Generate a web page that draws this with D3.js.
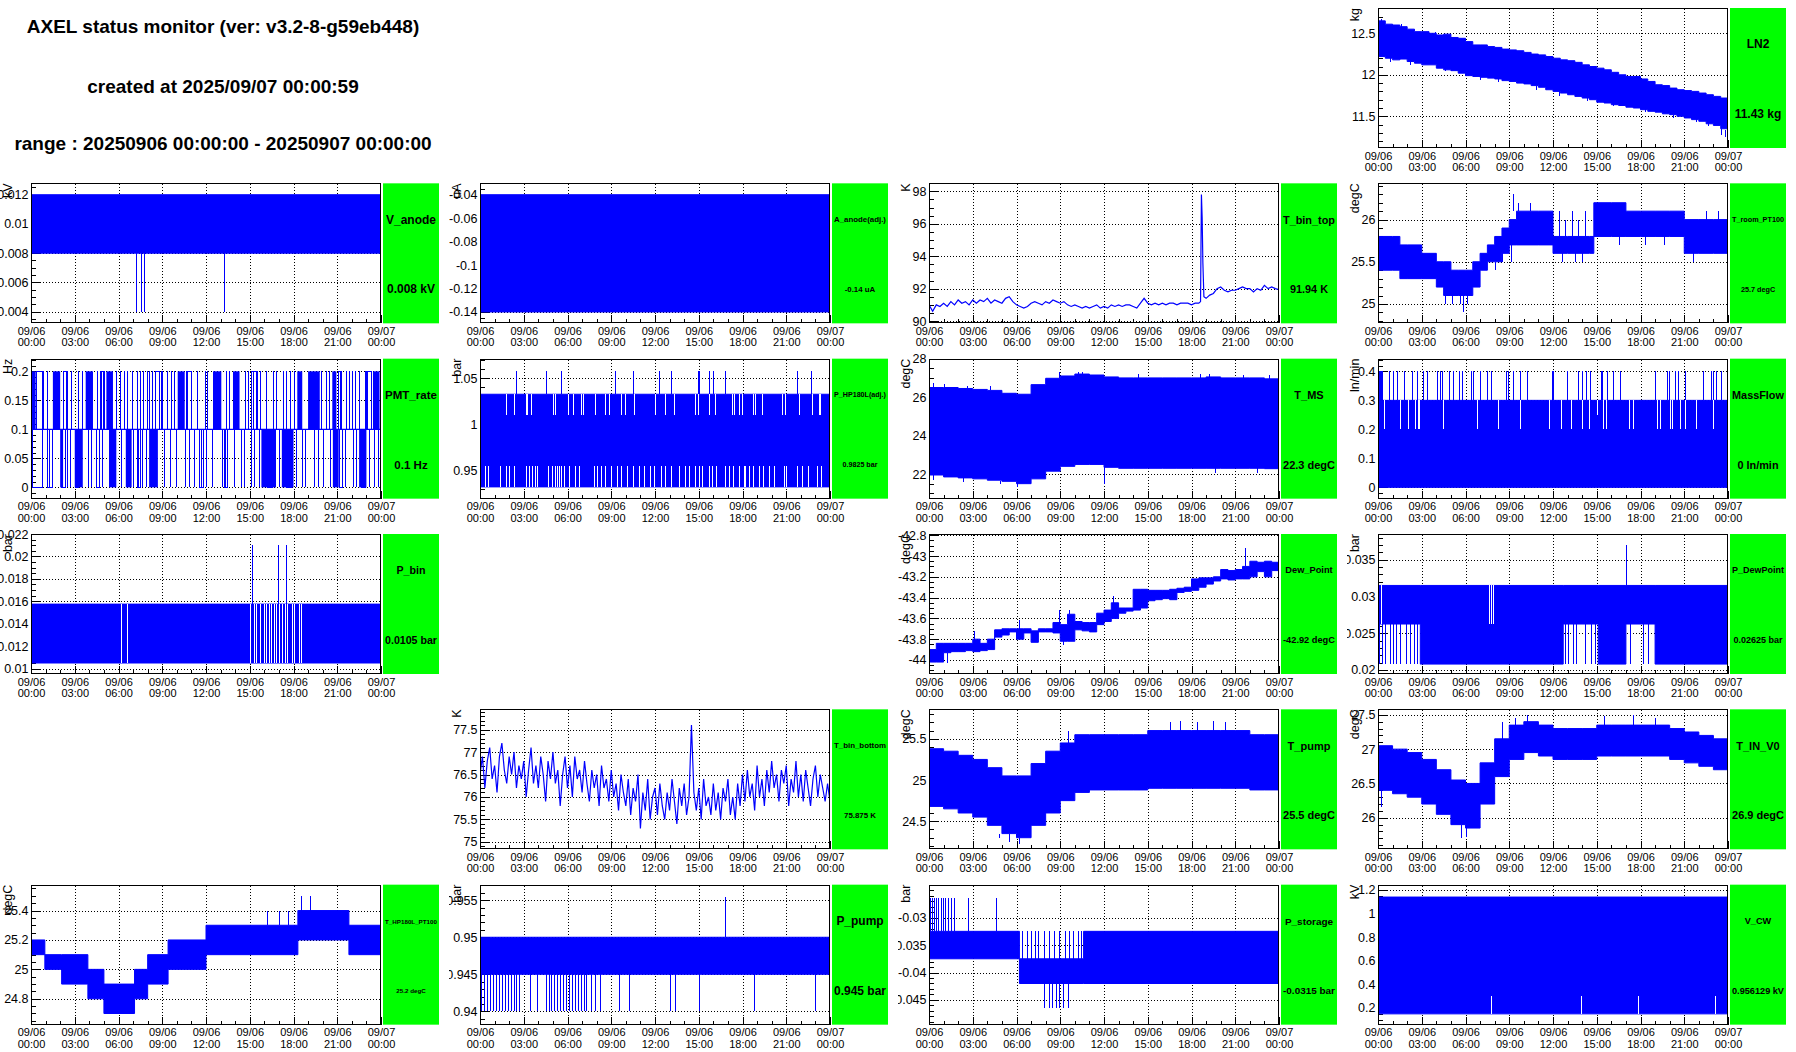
<!DOCTYPE html>
<html>
<head>
<meta charset="utf-8">
<title>AXEL status monitor</title>
<script src="https://cdn.jsdelivr.net/npm/d3@7"></script>
<style>
body { margin: 0; background: #fff; }
svg { display: block; font-family: "Liberation Sans", Arial, Helvetica, sans-serif; }
</style>
</head>
<body>
<script>
// ---------------- data ----------------
var headerLines = ["AXEL status monitor (ver: v3.2-8-g59eb448)",
                   "created at 2025/09/07 00:00:59",
                   "range : 20250906 00:00:00 - 20250907 00:00:00"];

var xTickHours = [0, 3, 6, 9, 12, 15, 18, 21, 24];
var xTickDates = ["09/06","09/06","09/06","09/06","09/06","09/06","09/06","09/06","09/07"];
var xTickTimes = ["00:00","03:00","06:00","09:00","12:00","15:00","18:00","21:00","00:00"];

var hourGrid = d3.range(0, 25);
var halfHourGrid = d3.range(0, 49).map(function(i) { return i / 2; });
var tenMinGrid = d3.range(0, 145).map(function(i) { return i / 6; });
var fullDay = [0, 24];

// LN2
var ln2Ticks = [11.5, 12, 12.5];
var ln2Hi = [12.65,12.61,12.60,12.58,12.55,12.52,12.52,12.50,12.48,12.49,12.45,12.44,12.40,12.36,12.36,12.34,12.33,12.31,12.30,12.29,
  12.27,12.25,12.24,12.22,12.20,12.18,12.17,12.15,12.12,12.10,12.08,12.06,12.03,12.00,11.98,11.98,11.95,11.92,11.88,11.87,
  11.84,11.82,11.81,11.80,11.78,11.76,11.74,11.72,11.70];
var ln2Lo = [12.22,12.20,12.18,12.19,12.16,12.14,12.12,12.12,12.08,12.06,12.05,12.02,11.99,11.98,11.97,11.96,11.95,11.93,11.92,11.90,
  11.89,11.87,11.85,11.82,11.80,11.78,11.76,11.74,11.72,11.70,11.67,11.66,11.64,11.63,11.61,11.60,11.58,11.56,11.55,11.53,
  11.52,11.50,11.48,11.46,11.44,11.41,11.39,11.35,11.32];
var ln2Spikes = [[0.2,12.63,12.67],[1.6,12.58,12.61],[3.9,12.48,12.52],[5.3,12.40,12.43],[9.5,12.27,12.29],[0.8,12.20,12.15],
  [2.2,12.16,12.12],[4.6,12.08,12.04],[7.0,11.97,11.94],[8.2,11.95,11.91],[10.8,11.87,11.82],[12.4,11.80,11.75],[14.3,11.72,11.68],
  [16.1,11.66,11.62],[18.3,11.59,11.55],[20.2,11.52,11.48],[21.8,11.47,11.43],[22.6,11.43,11.38],[23.5,11.35,11.27],[23.8,11.33,11.25]];

// V_anode
var vAnodeTicks = [0.004, 0.006, 0.008, 0.01, 0.012];
var vAnodeHi = [0.012, 0.012];
var vAnodeLo = [0.008, 0.008];
var vAnodeDropHours = [7.2, 7.57, 7.75, 13.23];
var vAnodeDropRange = [0.008, 0.004];

// A_anode(adj.)
var aAnodeTicks = [-0.14, -0.12, -0.1, -0.08, -0.06, -0.04];
var aAnodeHi = [-0.04, -0.04];
var aAnodeLo = [-0.14, -0.14];

// T_bin_top
var tbtTicks = [90, 92, 94, 96, 98];
var tbtHours = d3.range(0, 75).map(function(i) { return i / 4; })
  .concat([18.62, 18.68, 18.73, 18.78, 18.85], d3.range(76, 97).map(function(i) { return i / 4; }));
var tbtVals = [91.0,90.6,91.0,90.9, 91.1,90.9,91.2,91.0, 91.3,91.1,91.2,91.0, 91.3,91.1,91.3,91.2,
  91.4,91.1,91.3,91.2, 91.1,91.4,91.5,91.2, 91.0,90.9,90.8,90.9, 91.1,91.2,91.1,91.0,
  91.2,91.1,91.3,91.2, 91.1,91.2,91.0,90.9, 91.0,90.9,90.8,90.9, 90.8,90.9,91.0,90.8,
  90.9,90.8,91.0,90.9, 91.0,90.9,91.0,91.0, 90.9,90.8,91.1,91.4, 91.1,91.0,91.1,91.0,
  91.1,91.0,91.1,91.1, 91.0,91.1,91.1,91.1, 91.0,91.1,91.1,
  91.2,97.8,96.4,93.6,91.5,
  91.4,91.6,91.7,92.0,92.1,91.9,91.8,91.9,91.9,92.0,92.1,92.0,92.0,91.8,92.0,91.9,92.2,92.0,92.1,92.0,91.94];

// T_room_PT100
var troomTicks = [25, 25.5, 26];
var troomHours = [0,1,1.5,2,3,4,4.5,5,5.5,6,6.5,7,7.5,8,8.5,9,9.5,11,12,13,14.5,14.8,16,17,18,19,20,21,22,23,24];
var troomHi = [25.8,25.8,25.7,25.7,25.6,25.5,25.5,25.4,25.4,25.4,25.5,25.6,25.7,25.8,25.9,26.0,26.1,26.1,25.8,25.8,25.8,26.2,26.2,26.1,26.1,26.1,26.1,26.0,26.0,26.0,25.9];
var troomLo = [25.4,25.4,25.3,25.3,25.3,25.2,25.1,25.1,25.1,25.1,25.2,25.4,25.5,25.5,25.6,25.7,25.7,25.7,25.6,25.6,25.6,25.8,25.8,25.8,25.8,25.8,25.8,25.6,25.6,25.6,25.6];
var troomSpikes = [[9.25,26.1,26.3],[9.6,26.1,26.2],[10.4,26.1,26.2],[12.4,25.8,26.1],[12.8,25.8,26.0],[13.3,25.8,26.1],
  [13.7,25.8,26.0],[14.2,25.8,26.1],[4.6,25.1,25.0],[5.1,25.1,25.0],[5.6,25.1,25.0],[5.8,25.1,24.9],[6.1,25.1,25.0],
  [8.0,25.5,25.4],[8.5,25.6,25.5],[9.1,25.7,25.5],[12.6,25.6,25.5],[13.5,25.6,25.5],[14.0,25.6,25.5],[22.5,26.0,26.1],
  [23.3,26.0,26.1],[16.5,25.8,25.7],[18.3,25.8,25.7],[19.6,25.8,25.7],[21.6,25.6,25.5]];

// PMT_rate
var pmtTicks = [0, 0.05, 0.1, 0.15, 0.2];
var pmtBase = [0.1, 0.1];
var pmtUpBlocks = [[0.07,0.32],[1.5,2.0],[3.75,4.25],[5.17,5.62],[10.06,10.54],[12.48,13.05],[13.85,14.3],[18.26,18.6],[19.0,19.8],[20.66,20.94],[23.45,23.9]];
var pmtDownBlocks = [[2.0,2.2],[3.0,3.55],[5.35,5.85],[6.5,6.9],[8.1,8.7],[15.8,16.8],[17.2,18.0],[20.7,21.1],[22.5,23.0]];
var pmtUpHours = [0.8,1.1,2.2,2.45,2.75,3.2,3.5,4.5,4.8,4.95,5.85,6.1,6.35,6.55,6.9,7.25,7.5,7.7,7.95,8.1,8.3,8.9,9.0,9.3,9.6,9.8,
  10.7,11.0,11.35,11.9,12.05,13.4,13.6,14.7,14.85,15.2,15.5,15.7,16.1,16.6,16.8,17.3,17.5,17.75,18.05,19.9,20.2,20.45,
  21.2,21.6,21.8,22.0,22.25,22.5,22.9,23.05,23.3];
var pmtDownHours = [0.05,0.75,1.2,2.5,2.65,3.9,4.1,4.45,4.65,4.9,6.2,7.0,7.35,7.6,7.9,9.1,9.5,9.95,10.55,10.85,11.2,11.65,
  12.0,12.4,13.1,13.3,13.9,14.4,14.6,15.1,15.3,15.6,17.0,18.2,18.6,18.8,19.4,19.7,20.0,20.5,21.3,21.5,22.1,22.3,23.2,23.5,23.8];
var pmtHolds = [[0.32,0.78,0.2],[2.2,2.4,0.2],[4.7,5.0,0.2],[8.5,8.8,0.2],[10.65,11.0,0.2],[15.1,15.4,0.2],[21.05,21.25,0.2],[23.0,23.3,0.2],
  [0.1,0.75,0],[1.1,1.45,0],[2.05,2.3,0],[3.0,3.2,0],[4.45,4.65,0],[7.3,7.5,0],[11.55,11.8,0],[13.25,13.45,0],[16.2,16.5,0],[17.5,17.8,0],[21.1,21.3,0],[22.6,22.9,0]];

// P_HP180L(adj.)
var phpTicks = [0.95, 1, 1.05];
var phpHi = [1.0325, 1.0325];
var phpLo = [0.9325, 0.9325];
var phpUpHours = [2.49,4.53,5.55,9.28,10.49,12.3,13.1,14.95,15.04,15.7,15.98,16.8,21.76,22.7,24.0];
var phpUpRange = [1.0325, 1.0575];
var phpTopGapHours = [1.78,2.33,3.15,3.25,3.47,5.0,5.12,6.01,6.35,6.9,7.04,7.91,8.59,8.82,9.65,9.97,10.54,12.02,12.71,13.28,
  14.77,14.95,15.68,16.14,17.28,17.42,17.74,17.97,18.7,18.88,19.34,20.71,20.94,21.85,22.77,23.22,23.34];
var phpTopGapRange = [1.0325, 1.01];
var phpLowGapHours = [0.33,0.55,1.35,1.78,2.01,2.33,3.15,3.34,3.57,3.75,3.89,4.66,4.94,5.12,5.28,5.44,5.55,5.74,6.13,6.49,6.77,
  7.82,8.0,8.27,8.59,9.0,9.42,9.69,10.1,10.47,10.93,11.22,11.66,11.93,12.39,12.71,13.07,13.62,14.08,14.31,14.77,15.0,15.22,
  15.68,15.91,16.21,16.82,17.05,17.33,17.74,18.08,18.19,18.47,18.7,19.11,19.43,19.84,20.14,20.85,20.99,21.76,22.08,22.49,23.11,23.41];
var phpLowGapRange = [0.9325, 0.955];

// T_MS
var tmsTicks = [22, 24, 26, 28];
var tmsHi = [26.5,26.5,26.45,26.4,26.35,26.2,26.15,26.65,26.98,27.1,27.2,27.15,27.05,27.0,27.0,27.0,27.0,27.0,27.0,27.05,27.0,27.0,27.0,26.95,26.95];
var tmsLo = [21.95,21.85,21.8,21.75,21.68,21.62,21.5,21.75,22.15,22.4,22.5,22.5,22.35,22.3,22.3,22.3,22.3,22.3,22.3,22.3,22.3,22.3,22.3,22.28,22.28];
var tmsSpikes = [[0.3,26.5,26.75],[1.0,26.5,26.7],[2.6,26.45,26.6],[4.2,26.35,26.6],[8.9,27.0,27.3],[10.2,27.2,27.32],[10.5,27.2,27.3],
  [14.3,27.0,27.2],[18.6,27.0,27.2],[19.2,27.05,27.2],[21.5,27.0,27.15],[23.3,26.95,27.15],[0.3,21.95,21.7],[2.3,21.8,21.6],
  [4.9,21.65,21.5],[6.0,21.5,21.35],[12.0,22.35,21.5],[19.6,22.3,22.05],[22.5,22.3,22.05]];

// MassFlow
var mfTicks = [0, 0.1, 0.2, 0.3, 0.4];
var mfHi = [0.3, 0.3];
var mfLo = [0, 0];
var mfUpHours = [0.07,0.14,0.23,0.3,0.75,1.03,1.28,1.78,2.33,2.7,3.06,3.34,4.07,4.25,4.41,4.89,5.12,5.58,5.74,6.4,6.49,6.99,7.45,
  7.75,8.8,8.89,9.28,9.74,10.19,11.93,12.02,12.94,13.69,13.99,14.26,14.54,15.27,15.36,15.68,16.14,16.59,18.97,19.79,19.95,
  20.39,20.55,21.03,22.26,22.83,22.95,23.15,23.5];
var mfUpRange = [0.3, 0.4];
var mfGapHours = [0.41,1.51,2.06,2.54,2.74,2.83,4.46,6.77,8.25,9.74,11.7,12.53,13.21,13.97,14.47,15.41,15.63,17.23,17.46,19.15,
  19.34,20.02,20.14,20.71,21.05,21.78,22.95];
var mfGapRange = [0.3, 0.2];

// P_bin
var pbinTicks = [0.01, 0.012, 0.014, 0.016, 0.018, 0.02, 0.022];
var pbinHi = [0.01575, 0.01575];
var pbinLo = [0.0105, 0.0105];
var pbinGapHours = [6.15,6.61,15.05,15.27,15.45,15.73,15.98,16.14,16.32,16.48,16.64,16.82,17.0,17.19,17.39,17.55,17.9,18.03,18.35,18.54];
var pbinGapRange = [0.0105, 0.01575];
var pbinUpHours = [15.15, 16.94, 17.49];
var pbinUpRange = [0.01575, 0.021];

// Dew_Point
var dewTicks = [-44, -43.8, -43.6, -43.4, -43.2, -43, -42.8];
var dewHi = [-43.90,-43.84,-43.84,-43.84,-43.84,-43.84,-43.80,-43.84,-43.80,-43.71,-43.70,-43.70,-43.70,-43.70,-43.72,-43.70,-43.70,
  -43.64,-43.66,-43.56,-43.63,-43.64,-43.64,-43.55,-43.52,-43.45,-43.50,-43.50,-43.32,-43.32,-43.33,-43.33,-43.33,-43.32,-43.31,
  -43.30,-43.22,-43.21,-43.21,-43.20,-43.13,-43.14,-43.13,-43.10,-43.05,-43.06,-43.05,-43.06,-42.95];
var dewLo = [-44.02,-44.02,-43.93,-43.92,-43.92,-43.91,-43.92,-43.91,-43.90,-43.78,-43.76,-43.73,-43.80,-43.74,-43.83,-43.73,-43.73,
  -43.74,-43.82,-43.82,-43.71,-43.72,-43.73,-43.66,-43.63,-43.60,-43.55,-43.53,-43.52,-43.50,-43.43,-43.42,-43.41,-43.42,-43.35,
  -43.34,-43.33,-43.30,-43.27,-43.24,-43.22,-43.23,-43.22,-43.22,-43.20,-43.15,-43.20,-43.14,-43.18];
var dewSpikes = [[1.2,-43.93,-44.03],[3.1,-43.80,-43.72],[6.2,-43.70,-43.62],[8.9,-43.66,-43.52],[9.6,-43.56,-43.52],
  [12.6,-43.45,-43.38],[21.7,-43.10,-42.92],[23.9,-42.95,-42.88],[9.2,-43.82,-43.86]];

// P_DewPoint
var pdpTicks = [0.02, 0.025, 0.03, 0.035];
var pdpHours = [0, 2.9, 12.7, 15.1, 17.0, 19.0, 24];
var pdpHi = [0.0315, 0.0315, 0.0315, 0.0315, 0.0315, 0.0315, 0.0315];
var pdpLo = [0.02625, 0.0208, 0.02625, 0.0208, 0.02625, 0.0208, 0.0208];
var pdpDownHours = [0.1,0.3,0.5,0.8,1.0,1.2,1.5,1.9,2.2,2.5,2.7,12.8,13.0,13.4,13.6,14.2,14.6,14.9,17.3,18.2,18.5];
var pdpDownRange = [0.02625, 0.0208];
var pdpGapHours = [0.2, 7.6, 7.75, 7.9];
var pdpGapRange = [0.0315, 0.02625];
var pdpUp = [[17.0, 0.0315, 0.037]];

// T_bin_bottom (10 min samples)
var tbbTicks = [75, 75.5, 76, 76.5, 77, 77.5];
var tbbVals = [76.5,76.9,76.2,76.8,77.1,76.4, 76.7,76.1,76.9,77.2,76.6,76.3, 76.9,76.5,77.0,76.2,76.7,76.4,
  76.8,76.0,76.6,77.1,76.3,76.7, 76.2,76.9,76.5,75.9,76.8,76.4, 77.0,76.3,76.6,75.8,76.5,76.9,
  76.2,76.7,76.0,76.9,76.4,76.6, 76.1,76.8,76.3,75.9,76.6,76.2, 76.5,75.8,76.7,76.2,76.4,75.9,
  76.6,76.0,76.3,75.7,76.5,76.1, 75.8,76.4,75.6,76.2,75.9,76.5, 75.3,76.1,75.7,76.4,75.5,76.0,
  76.2,75.6,76.3,75.8,75.5,76.1, 75.7,76.4,75.9,75.4,76.2,75.8, 76.3,75.6,76.0,77.6,76.1,75.7,
  76.2,75.5,76.4,75.8,76.0,75.6, 76.3,75.7,76.1,75.5,76.2,75.9, 76.4,75.6,76.0,75.5,76.3,75.8,
  76.5,75.9,76.6,76.0,76.3,75.7, 76.7,76.0,76.4,75.8,76.6,76.1, 76.8,76.2,76.5,75.9,76.6,76.3,
  76.7,75.8,76.4,76.1,76.8,76.0, 76.5,75.9,76.6,76.2,75.8,76.4, 76.7,76.0,76.5,76.2,75.9,76.3, 75.9];

// T_pump
var tpumpTicks = [24.5, 25, 25.5];
var tpumpHi = [25.38,25.35,25.3,25.25,25.15,25.05,25.05,25.2,25.35,25.45,25.55,25.55,25.55,25.55,25.55,25.6,25.6,25.6,25.6,25.6,25.6,25.6,25.55,25.55,25.55];
var tpumpLo = [24.68,24.65,24.6,24.55,24.45,24.35,24.3,24.45,24.6,24.75,24.85,24.88,24.88,24.88,24.88,24.9,24.9,24.9,24.9,24.9,24.9,24.9,24.88,24.88,24.88];
var tpumpSpikes = [[16.5,25.6,25.7],[17.2,25.6,25.72],[18.4,25.6,25.7],[19.5,25.6,25.72],[20.3,25.6,25.7],[9.5,25.45,25.6],
  [5.5,24.35,24.25],[6.2,24.3,24.22],[4.8,24.35,24.3]];

// T_IN_V0
var tinTicks = [26, 26.5, 27, 27.5];
var tinHi = [27.05,27.0,26.95,26.85,26.7,26.55,26.5,26.8,27.15,27.35,27.4,27.35,27.3,27.3,27.3,27.35,27.35,27.35,27.35,27.35,27.3,27.25,27.2,27.15,27.1];
var tinLo = [26.4,26.35,26.3,26.2,26.05,25.9,25.85,26.2,26.6,26.85,26.95,26.9,26.85,26.85,26.85,26.9,26.9,26.9,26.9,26.9,26.85,26.8,26.75,26.7,26.65];
var tinSpikes = [[8.5,27.15,27.4],[9.4,27.35,27.45],[10.2,27.4,27.5],[15.5,27.35,27.48],[17.5,27.35,27.5],[19.0,27.35,27.45],
  [5.7,25.9,25.7],[6.0,25.85,25.72],[0.2,26.4,26.15]];

// T_HP180L_PT100
var thpTicks = [24.8, 25, 25.2, 25.4];
var thpHours = [0, 0.95, 2.1, 3.9, 5.0, 7.1, 8.0, 9.4, 12.0, 18.3, 21.8, 24];
var thpHi = [25.2, 25.1, 25.1, 25.0, 24.9, 25.0, 25.1, 25.2, 25.3, 25.4, 25.3, 25.3];
var thpLo = [25.1, 25.0, 24.9, 24.8, 24.7, 24.8, 24.9, 25.0, 25.1, 25.2, 25.1, 25.1];
var thpSpikes = [[18.5,25.4,25.5],[19.1,25.4,25.5],[16.2,25.3,25.4],[17.0,25.3,25.4],[17.6,25.3,25.4],[2.5,25.0,24.9]];

// P_pump
var ppumpTicks = [0.94, 0.945, 0.95, 0.955];
var ppumpHi = [0.95, 0.95];
var ppumpLo = [0.945, 0.945];
var ppumpDownHours = [0.1,0.3,0.5,0.7,0.9,1.1,1.3,1.5,1.7,1.9,2.1,2.3,2.5,2.7,3.4,3.9,4.5,4.7,4.9,5.1,5.3,5.5,5.7,5.9,6.1,
  6.3,6.5,6.7,6.9,7.1,7.3,7.6,7.9,8.2,9.5,10.2,13.0,13.4,15.0,18.8,23.0];
var ppumpDownRange = [0.945, 0.94];
var ppumpUp = [[16.8, 0.95, 0.9555]];

// P_storage
var pstTicks = [-0.045, -0.04, -0.035, -0.03];
var pstHours = [0, 6.2, 10.6, 24];
var pstHi = [-0.0325, -0.0375, -0.0325, -0.0325];
var pstLo = [-0.0375, -0.042, -0.042, -0.042];
var pstFillHours = [6.4,6.7,7.0,7.3,7.5,7.9,8.2,8.6,8.9,9.3,9.6,9.9,10.2,10.4];
var pstFillRange = [-0.0375, -0.0325];
var pstDownHours = [7.9,8.2,8.4,8.7,8.9,9.2,9.5];
var pstDownRange = [-0.042, -0.0465];
var pstUpHours = [0.05,0.2,0.35,0.5,0.65,0.8,0.95,1.1,1.3,1.5,1.7,2.7,4.6];
var pstUpRange = [-0.0325, -0.0265];

// V_CW
var vcwTicks = [0.2, 0.4, 0.6, 0.8, 1, 1.2];
var vcwHi = [1.14, 1.14];
var vcwLo = [0.15, 0.15];
var vcwGapHours = [7.77, 13.9, 17.8, 23.1];
var vcwGapRange = [0.15, 0.3];

// ---------------- helpers ----------------
function at(hours, range) {
  return hours.map(function(h) { return [h, range[0], range[1]]; });
}
function band(t, hi, lo) {
  return t.map(function(h, i) { return [h, hi[i], lo[i]]; });
}
function series(t, v) {
  return t.map(function(h, i) { return [h, v[i]]; });
}
function fmt(v) { return String(+v.toFixed(4)); }

var panels = [
  {col:3,row:0,name:"LN2",value:"11.43 kg",unit:"kg",domain:[11.118,12.805],ticks:ln2Ticks,sub:5,
    bands:[band(halfHourGrid, ln2Hi, ln2Lo)], spikes:ln2Spikes},
  {col:0,row:1,name:"V_anode",value:"0.008 kV",unit:"kV",domain:[0.0032,0.01278],ticks:vAnodeTicks,sub:4,
    bands:[band(fullDay, vAnodeHi, vAnodeLo)], spikes:at(vAnodeDropHours, vAnodeDropRange)},
  {col:1,row:1,name:"A_anode(adj.)",value:"-0.14 uA",unit:"uA",domain:[-0.1497,-0.0303],ticks:aAnodeTicks,sub:4,
    bands:[band(fullDay, aAnodeHi, aAnodeLo)]},
  {col:2,row:1,name:"T_bin_top",value:"91.94 K",unit:"K",domain:[89.86,98.49],ticks:tbtTicks,sub:4,
    lines:[series(tbtHours, tbtVals)]},
  {col:3,row:1,name:"T_room_PT100",value:"25.7 degC",unit:"degC",domain:[24.77,26.43],ticks:troomTicks,sub:5,
    bands:[band(troomHours, troomHi, troomLo)], spikes:troomSpikes},
  {col:0,row:2,name:"PMT_rate",value:"0.1 Hz",unit:"Hz",domain:[-0.0195,0.2218],ticks:pmtTicks,sub:5,
    lines:[series(fullDay, pmtBase)],
    blocks:pmtUpBlocks.map(function(b){return [b[0],b[1],0.1,0.2];}).concat(pmtDownBlocks.map(function(b){return [b[0],b[1],0,0.1];})),
    spikes:at(pmtUpHours,[0.1,0.2]).concat(at(pmtDownHours,[0.1,0])), holds:pmtHolds},
  {col:1,row:2,name:"P_HP180L(adj.)",value:"0.9825 bar",unit:"bar",domain:[0.9198,1.0709],ticks:phpTicks,sub:5,
    bands:[band(fullDay, phpHi, phpLo)], gaps:at(phpTopGapHours, phpTopGapRange).concat(at(phpLowGapHours, phpLowGapRange)),
    spikes:at(phpUpHours, phpUpRange)},
  {col:2,row:2,name:"T_MS",value:"22.3 degC",unit:"degC",domain:[20.72,28],ticks:tmsTicks,sub:4,
    bands:[band(hourGrid, tmsHi, tmsLo)], spikes:tmsSpikes},
  {col:3,row:2,name:"MassFlow",value:"0 ln/min",unit:"ln/min",domain:[-0.039,0.4437],ticks:mfTicks,sub:5,
    bands:[band(fullDay, mfHi, mfLo)], gaps:at(mfGapHours, mfGapRange).concat([[15.0,0.3,0.25]]),
    spikes:at(mfUpHours, mfUpRange)},
  {col:0,row:3,name:"P_bin",value:"0.0105 bar",unit:"bar",domain:[0.00952,0.022],ticks:pbinTicks,sub:4,
    bands:[band(fullDay, pbinHi, pbinLo)], gaps:at(pbinGapHours, pbinGapRange), spikes:at(pbinUpHours, pbinUpRange)},
  {col:2,row:3,name:"Dew_Point",value:"-42.92 degC",unit:"degC",domain:[-44.135,-42.788],ticks:dewTicks,sub:4,
    bands:[band(halfHourGrid, dewHi, dewLo)], spikes:dewSpikes},
  {col:3,row:3,name:"P_DewPoint",value:"0.02625 bar",unit:"bar",domain:[0.01945,0.0385],ticks:pdpTicks,sub:5,
    bands:[band(pdpHours, pdpHi, pdpLo)], gaps:at(pdpGapHours, pdpGapRange),
    spikes:at(pdpDownHours, pdpDownRange).concat(pdpUp)},
  {col:1,row:4,name:"T_bin_bottom",value:"75.875 K",unit:"K",domain:[74.835,77.95],ticks:tbbTicks,sub:5,
    lines:[series(tenMinGrid, tbbVals)]},
  {col:2,row:4,name:"T_pump",value:"25.5 degC",unit:"degC",domain:[24.159,25.858],ticks:tpumpTicks,sub:5,
    bands:[band(hourGrid, tpumpHi, tpumpLo)], spikes:tpumpSpikes},
  {col:3,row:4,name:"T_IN_V0",value:"26.9 degC",unit:"degC",domain:[25.54,27.58],ticks:tinTicks,sub:5,
    bands:[band(hourGrid, tinHi, tinLo)], spikes:tinSpikes},
  {col:0,row:5,name:"T_HP180L_PT100",value:"25.2 degC",unit:"degC",domain:[24.624,25.576],ticks:thpTicks,sub:4,
    bands:[band(thpHours, thpHi, thpLo)], spikes:thpSpikes},
  {col:1,row:5,name:"P_pump",value:"0.945 bar",unit:"bar",domain:[0.9382,0.9571],ticks:ppumpTicks,sub:5,
    bands:[band(fullDay, ppumpHi, ppumpLo)], spikes:at(ppumpDownHours, ppumpDownRange).concat(ppumpUp)},
  {col:2,row:5,name:"P_storage",value:"-0.0315 bar",unit:"bar",domain:[-0.0495,-0.024],ticks:pstTicks,sub:5,
    bands:[band(pstHours, pstHi, pstLo)],
    spikes:at(pstFillHours, pstFillRange).concat(at(pstDownHours, pstDownRange), at(pstUpHours, pstUpRange))},
  {col:3,row:5,name:"V_CW",value:"0.956129 kV",unit:"kV",domain:[0.0585,1.245],ticks:vcwTicks,sub:4,
    bands:[band(fullDay, vcwHi, vcwLo)], gaps:at(vcwGapHours, vcwGapRange)}
];

// ---------------- layout ----------------
var W = 1796, H = 1052;
var cellW = W / 4, cellH = H / 6;
var fx0 = 31, fx1 = 381, fy0 = 8, fy1 = 148;
var px0 = 383, px1 = 439;
var blue = "#0000ff", green = "#00ff00";

var svg = d3.select("body").append("svg").attr("width", W).attr("height", H);

var head = svg.append("g").attr("font-weight", "bold").attr("font-size", 19).attr("text-anchor", "middle");
[33, 93, 150].forEach(function(yy, i) {
  head.append("text").attr("x", 223).attr("y", yy).text(headerLines[i]);
});

function minorTicks(domain, ticks, sub) {
  var step = (ticks[1] - ticks[0]) / sub;
  var lo = Math.ceil(domain[0] / step - 1e-6), hi = Math.floor(domain[1] / step + 1e-6);
  return d3.range(lo, hi + 1).map(function(k) { return k * step; });
}
function px(v) { return Math.round(v) + 0.5; }

panels.forEach(function(p, idx) {
  var cell = svg.append("svg")
    .attr("x", p.col * cellW).attr("y", p.row * cellH)
    .attr("width", cellW).attr("height", cellH);

  var x = d3.scaleLinear().domain([0, 24]).range([fx0, fx1]);
  var y = d3.scaleLinear().domain(p.domain).range([fy1, fy0]);

  // dotted grid
  var gxg = cell.append("g").attr("transform", "translate(0," + fy1 + ")")
    .call(d3.axisBottom(x).tickValues(xTickHours.slice(1, -1)).tickSize(-(fy1 - fy0)).tickFormat(""));
  var gyg = cell.append("g").attr("transform", "translate(" + fx0 + ",0)")
    .call(d3.axisLeft(y).tickValues(p.ticks).tickSize(-(fx1 - fx0)).tickFormat(""));
  [gxg, gyg].forEach(function(g) {
    g.select(".domain").remove();
    g.selectAll("text").remove();
    g.selectAll("line").attr("stroke", "#000").attr("stroke-dasharray", "1,2").attr("shape-rendering", "crispEdges");
  });

  // x axis ticks and two-line labels
  var hourMinor = hourGrid.filter(function(h) { return xTickHours.indexOf(h) < 0; });
  var gxm = cell.append("g").attr("transform", "translate(0," + fy1 + ")")
    .call(d3.axisBottom(x).tickValues(hourMinor).tickSizeInner(-4).tickSizeOuter(0).tickFormat(""));
  var gxa = cell.append("g").attr("transform", "translate(0," + fy1 + ")")
    .call(d3.axisBottom(x).tickValues(xTickHours).tickSizeInner(-8).tickSizeOuter(0).tickFormat(""));
  gxa.selectAll(".tick text").remove();
  gxa.selectAll(".tick").append("text")
    .attr("fill", "#000").attr("text-anchor", "middle")
    .attr("font-size", 11).attr("font-family", "Liberation Sans, Arial, sans-serif")
    .each(function(d) {
      var i = xTickHours.indexOf(d), t = d3.select(this);
      t.append("tspan").attr("x", 0).attr("y", 11.5).text(xTickDates[i]);
      t.append("tspan").attr("x", 0).attr("y", 23).text(xTickTimes[i]);
    });

  // y axis ticks and labels
  var gym = cell.append("g").attr("transform", "translate(" + fx0 + ",0)")
    .call(d3.axisLeft(y).tickValues(minorTicks(p.domain, p.ticks, p.sub)).tickSizeInner(-5).tickSizeOuter(0).tickFormat(""));
  var gya = cell.append("g").attr("transform", "translate(" + fx0 + ",0)")
    .call(d3.axisLeft(y).tickValues(p.ticks).tickSizeInner(-10).tickSizeOuter(0).tickPadding(2.5).tickFormat(fmt));
  gya.selectAll("text").attr("font-size", 12.5).attr("font-family", "Liberation Sans, Arial, sans-serif");
  [gxm, gxa, gym, gya].forEach(function(g) {
    g.select(".domain").remove();
    g.selectAll("line").attr("shape-rendering", "crispEdges");
  });

  // data
  cell.append("clipPath").attr("id", "clip" + idx)
    .append("rect").attr("x", fx0).attr("y", fy0).attr("width", fx1 - fx0).attr("height", fy1 - fy0);
  var g = cell.append("g").attr("clip-path", "url(#clip" + idx + ")");

  var area = d3.area().curve(d3.curveStepAfter)
    .x(function(d) { return x(d[0]); }).y0(function(d) { return y(d[2]); }).y1(function(d) { return y(d[1]); });
  (p.bands || []).forEach(function(b) {
    g.append("path").datum(b).attr("d", area).attr("fill", blue).attr("stroke", blue).attr("stroke-width", 1);
  });

  g.selectAll("rect.block").data(p.blocks || []).enter().append("rect")
    .attr("x", function(d) { return x(d[0]); }).attr("width", function(d) { return x(d[1]) - x(d[0]); })
    .attr("y", function(d) { return y(d[3]); }).attr("height", function(d) { return y(d[2]) - y(d[3]); })
    .attr("fill", blue);

  g.selectAll("line.gap").data(p.gaps || []).enter().append("line")
    .attr("x1", function(d) { return px(x(d[0])); }).attr("x2", function(d) { return px(x(d[0])); })
    .attr("y1", function(d) { return y(d[1]); }).attr("y2", function(d) { return y(d[2]); })
    .attr("stroke", "#fff").attr("stroke-width", 1.2).attr("shape-rendering", "crispEdges");

  g.selectAll("line.spike").data(p.spikes || []).enter().append("line")
    .attr("x1", function(d) { return px(x(d[0])); }).attr("x2", function(d) { return px(x(d[0])); })
    .attr("y1", function(d) { return y(d[1]); }).attr("y2", function(d) { return y(d[2]); })
    .attr("stroke", blue).attr("stroke-width", 1).attr("shape-rendering", "crispEdges");

  g.selectAll("path.hold").data(p.holds || []).enter().append("path")
    .attr("d", function(d) {
      var yb = y(0.1);
      return "M" + px(x(d[0])) + "," + yb + "V" + y(d[2]) + "H" + px(x(d[1])) + "V" + yb;
    })
    .attr("fill", "none").attr("stroke", blue).attr("stroke-width", 1).attr("shape-rendering", "crispEdges");

  var line = d3.line().x(function(d) { return x(d[0]); }).y(function(d) { return y(d[1]); });
  (p.lines || []).forEach(function(l) {
    g.append("path").datum(l).attr("d", line).attr("fill", "none").attr("stroke", blue).attr("stroke-width", 1.2);
  });

  // frame
  cell.append("rect").attr("x", fx0 + 0.5).attr("y", fy0 + 0.5).attr("width", fx1 - fx0 - 1).attr("height", fy1 - fy0 - 1)
    .attr("fill", "none").attr("stroke", "#000").attr("stroke-width", 1).attr("shape-rendering", "crispEdges");

  // y title
  cell.append("text").attr("transform", "translate(12," + fy0 + ") rotate(-90)")
    .attr("text-anchor", "end").attr("font-size", 12.5).text(p.unit);

  // green status box
  cell.append("rect").attr("x", px0).attr("y", fy0).attr("width", px1 - px0).attr("height", fy1 - fy0).attr("fill", green);
  var cx = (px0 + px1) / 2;
  var t1 = cell.append("text").attr("x", cx).attr("y", fy0 + 0.26 * (fy1 - fy0))
    .attr("text-anchor", "middle").attr("dominant-baseline", "central").attr("font-weight", "bold").attr("font-size", 12).text(p.name);
  var t2 = cell.append("text").attr("x", cx).attr("y", fy0 + 0.757 * (fy1 - fy0))
    .attr("text-anchor", "middle").attr("dominant-baseline", "central").attr("font-weight", "bold").attr("font-size", 12).text(p.value);
  var w = Math.max(t1.node().getComputedTextLength(), t2.node().getComputedTextLength());
  if (w > 52) {
    var fs = 12 * 52 / w;
    t1.attr("font-size", fs);
    t2.attr("font-size", fs);
  }
});
</script>
</body>
</html>
